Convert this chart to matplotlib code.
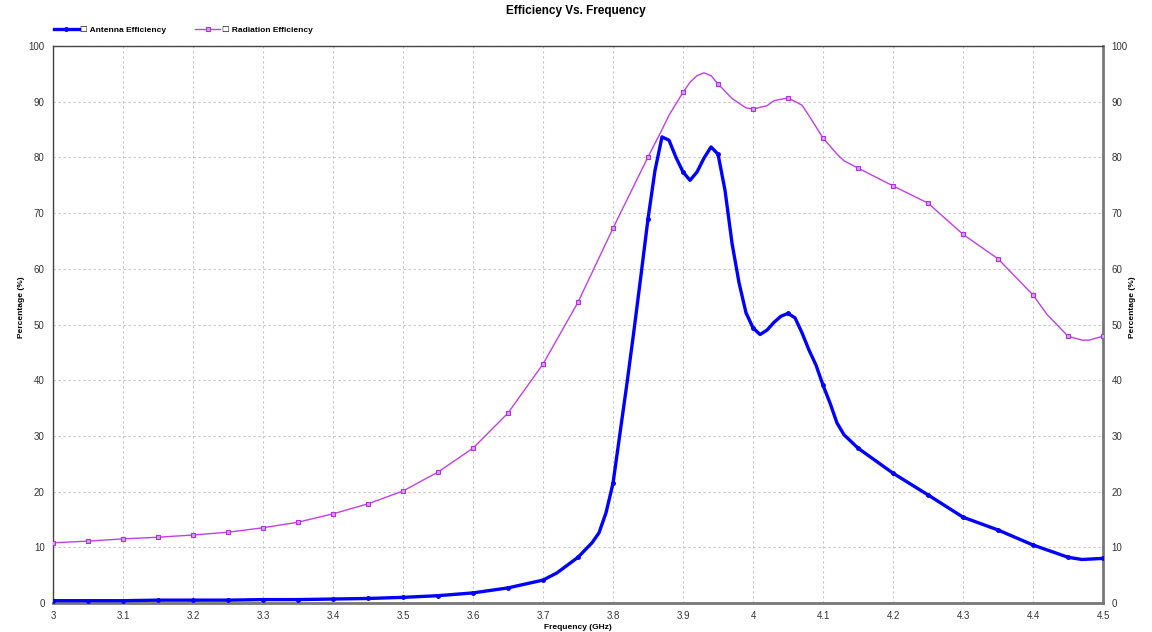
import numpy as np
import matplotlib
matplotlib.use("Agg")
import matplotlib.pyplot as plt

plt.rcParams["font.family"] = ["Liberation Sans", "DejaVu Sans"]

# Antenna efficiency (%)
freq_ant = [3.0, 3.05, 3.1, 3.15, 3.2, 3.25, 3.3, 3.35, 3.4, 3.45, 3.5, 3.55, 3.6, 3.65,
            3.7, 3.72, 3.75, 3.77, 3.78, 3.79, 3.8, 3.81, 3.82, 3.83, 3.84, 3.85, 3.86,
            3.87, 3.88, 3.89, 3.9, 3.91, 3.92, 3.93, 3.94, 3.95, 3.96, 3.97, 3.98, 3.99,
            4.0, 4.01, 4.02, 4.03, 4.04, 4.05, 4.06, 4.07, 4.08, 4.09, 4.1, 4.11, 4.12,
            4.13, 4.15, 4.2, 4.25, 4.3, 4.35, 4.4, 4.45, 4.47, 4.5]
ant_eff = [0.4, 0.4, 0.4, 0.5, 0.5, 0.5, 0.6, 0.6, 0.7, 0.8, 1.0, 1.3, 1.8, 2.7,
           4.1, 5.4, 8.2, 10.8, 12.6, 16.2, 21.5, 30.5, 39.5, 49.0, 58.9, 69.0, 77.7,
           83.7, 83.1, 80.0, 77.4, 75.9, 77.4, 79.9, 81.9, 80.6, 74.1, 64.6, 57.5, 52.1,
           49.4, 48.2, 49.0, 50.4, 51.5, 52.0, 51.2, 48.5, 45.4, 42.7, 39.1, 35.9, 32.3,
           30.2, 27.8, 23.3, 19.4, 15.4, 13.1, 10.4, 8.2, 7.8, 8.0]

# Radiation efficiency (%)
freq_rad = [3.0, 3.05, 3.1, 3.15, 3.2, 3.25, 3.3, 3.35, 3.4, 3.45, 3.5, 3.55, 3.6, 3.65,
            3.7, 3.75, 3.8, 3.85, 3.87, 3.88, 3.9, 3.91, 3.92, 3.93, 3.94, 3.95, 3.97,
            3.99, 4.0, 4.02, 4.03, 4.05, 4.07, 4.08, 4.1, 4.12, 4.13, 4.15, 4.2, 4.25,
            4.3, 4.35, 4.4, 4.42, 4.45, 4.47, 4.48, 4.5]
rad_eff = [10.8, 11.1, 11.5, 11.8, 12.2, 12.7, 13.5, 14.5, 16.0, 17.8, 20.1, 23.5, 27.8, 34.1,
           42.9, 54.0, 67.3, 80.1, 85.0, 87.6, 91.7, 93.5, 94.7, 95.2, 94.7, 93.2, 90.6,
           88.9, 88.7, 89.3, 90.2, 90.7, 89.4, 87.5, 83.5, 80.6, 79.4, 78.1, 74.9, 71.8,
           66.2, 61.8, 55.3, 51.8, 47.9, 47.2, 47.2, 47.9]

xticks = [3, 3.1, 3.2, 3.3, 3.4, 3.5, 3.6, 3.7, 3.8, 3.9, 4, 4.1, 4.2, 4.3, 4.4, 4.5]
yticks = list(range(0, 101, 10))

# markers only on the 0.05 GHz grid
def grid_marks(freqs):
    return [i for i, f in enumerate(freqs) if abs(f * 20 - round(f * 20)) < 1e-6]

fig = plt.figure(figsize=(11.52, 6.32), dpi=100)
ax = fig.add_axes([0.046, 0.046, 0.9115, 0.881])

ax.plot(freq_rad, rad_eff, color="#c040e8", lw=1.0, marker="s", ms=3.2,
        mfc="#d9a0f0", mec="#b030e0", mew=0.8, markevery=grid_marks(freq_rad),
        label="\u2610 Radiation Efficiency", zorder=3)
ax.plot(freq_ant, ant_eff, color="#0000ff", lw=2.4, marker="o", ms=2.5,
        mec="#0000ff", markevery=grid_marks(freq_ant),
        label="\u2610 Antenna Efficiency", zorder=4)

ax.set_xlim(3, 4.5)
ax.set_ylim(0, 100)
ax.set_xticks(xticks)
ax.set_xticklabels([f"{t:g}" for t in xticks])
ax.set_yticks(yticks)
ax.tick_params(labelsize=7, length=0, pad=6, colors="#333333")
ax.tick_params(axis="y", labelright=True, right=False)
ax.grid(True, color="#c4c4c4", ls=(0, (2, 2.5)), lw=0.8)

for side in ["left", "top"]:
    ax.spines[side].set_color("#444444")
    ax.spines[side].set_linewidth(1.0)
for side in ["bottom", "right"]:
    ax.spines[side].set_color("#777777")
    ax.spines[side].set_linewidth(2.0)

ax.set_xlabel("Frequency (GHz)", fontsize=6, fontweight="bold", labelpad=2)
fig.text(0.019, 0.514, "Percentage (%)", rotation=90, fontsize=6, fontweight="bold",
         ha="center", va="center")
fig.text(0.9835, 0.514, "Percentage (%)", rotation=90, fontsize=6, fontweight="bold",
         ha="center", va="center")

fig.suptitle("Efficiency Vs. Frequency", fontsize=8.5, fontweight="bold", y=0.992)

handles, labels = ax.get_legend_handles_labels()
fig.legend(handles[::-1], labels[::-1], loc="center left", ncol=2, frameon=False,
           bbox_to_anchor=(0.04, 0.953), prop={"weight": "bold", "size": 6},
           handlelength=3.0, columnspacing=3.5, handletextpad=0.2)

fig.savefig("out.png", dpi=100)
